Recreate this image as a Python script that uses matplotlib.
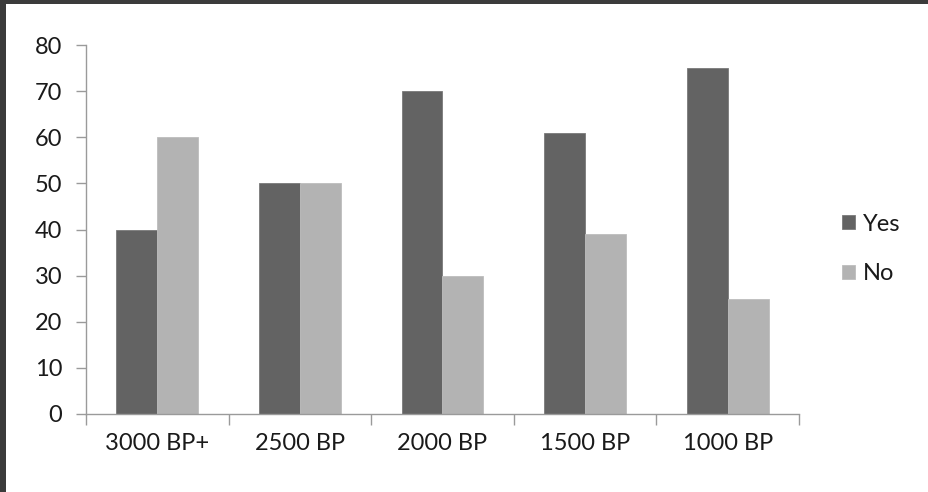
import matplotlib
matplotlib.use("Agg")
import matplotlib.pyplot as plt
from matplotlib.patches import Rectangle
import numpy as np

categories = ["3000 BP+", "2500 BP", "2000 BP", "1500 BP", "1000 BP"]
yes_values = [40, 50, 70, 61, 75]
no_values = [60, 50, 30, 39, 25]
y_ticks = [0, 10, 20, 30, 40, 50, 60, 70, 80]

plt.rcParams['font.family'] = ['Lato', 'DejaVu Sans']

W, H = 929, 492
fig = plt.figure(figsize=(W / 100, H / 100), dpi=100)
fig.patch.set_facecolor("white")

# dark frame along the top and left edges
fig.patches.append(Rectangle((0, 0), 6 / W, 1, transform=fig.transFigure,
                             facecolor="#3b3b3b", edgecolor="none", zorder=10))
fig.patches.append(Rectangle((0, 1 - 4 / H), 1, 4 / H, transform=fig.transFigure,
                             facecolor="#3b3b3b", edgecolor="none", zorder=10))

ax = fig.add_axes([86 / W, 78 / H, (799 - 86) / W, (414 - 45) / H])

x = np.arange(len(categories))
bw = 0.2875
ax.bar(x - bw / 2, yes_values, width=bw, color="#636363", edgecolor="#7a7a7a",
       linewidth=0.6, label="Yes")
ax.bar(x + bw / 2, no_values, width=bw, color="#b3b3b3", edgecolor="#bdbdbd",
       linewidth=0.6, label="No")

ax.set_xlim(-0.5, len(categories) - 0.5)
ax.set_ylim(0, 80)
ax.set_yticks(y_ticks)
ax.set_yticklabels([str(v) for v in y_ticks])

# category labels centred, tick marks at category boundaries
ax.set_xticks(x)
ax.set_xticklabels(categories)
ax.tick_params(axis="x", which="major", length=0, pad=14)
ax.set_xticks(np.arange(len(categories) + 1) - 0.5, minor=True)
ax.tick_params(axis="x", which="minor", length=8, width=1, color="#9a9a9a",
               direction="out")
ax.tick_params(axis="y", length=7, width=1, color="#9a9a9a", pad=10,
               direction="out")
ax.tick_params(labelsize=17, labelcolor="#1a1a1a")

for side in ("top", "right"):
    ax.spines[side].set_visible(False)
for side in ("left", "bottom"):
    ax.spines[side].set_color("#9a9a9a")
    ax.spines[side].set_linewidth(1)

leg = fig.legend(loc="center left", bbox_to_anchor=(821 / W, 1 - 249 / H),
                 frameon=False, fontsize=17, handlelength=0.52,
                 handleheight=0.52, handletextpad=0.35, labelspacing=1.22)
for t in leg.get_texts():
    t.set_color("#1a1a1a")

fig.savefig("out.png", dpi=100, facecolor="white")
